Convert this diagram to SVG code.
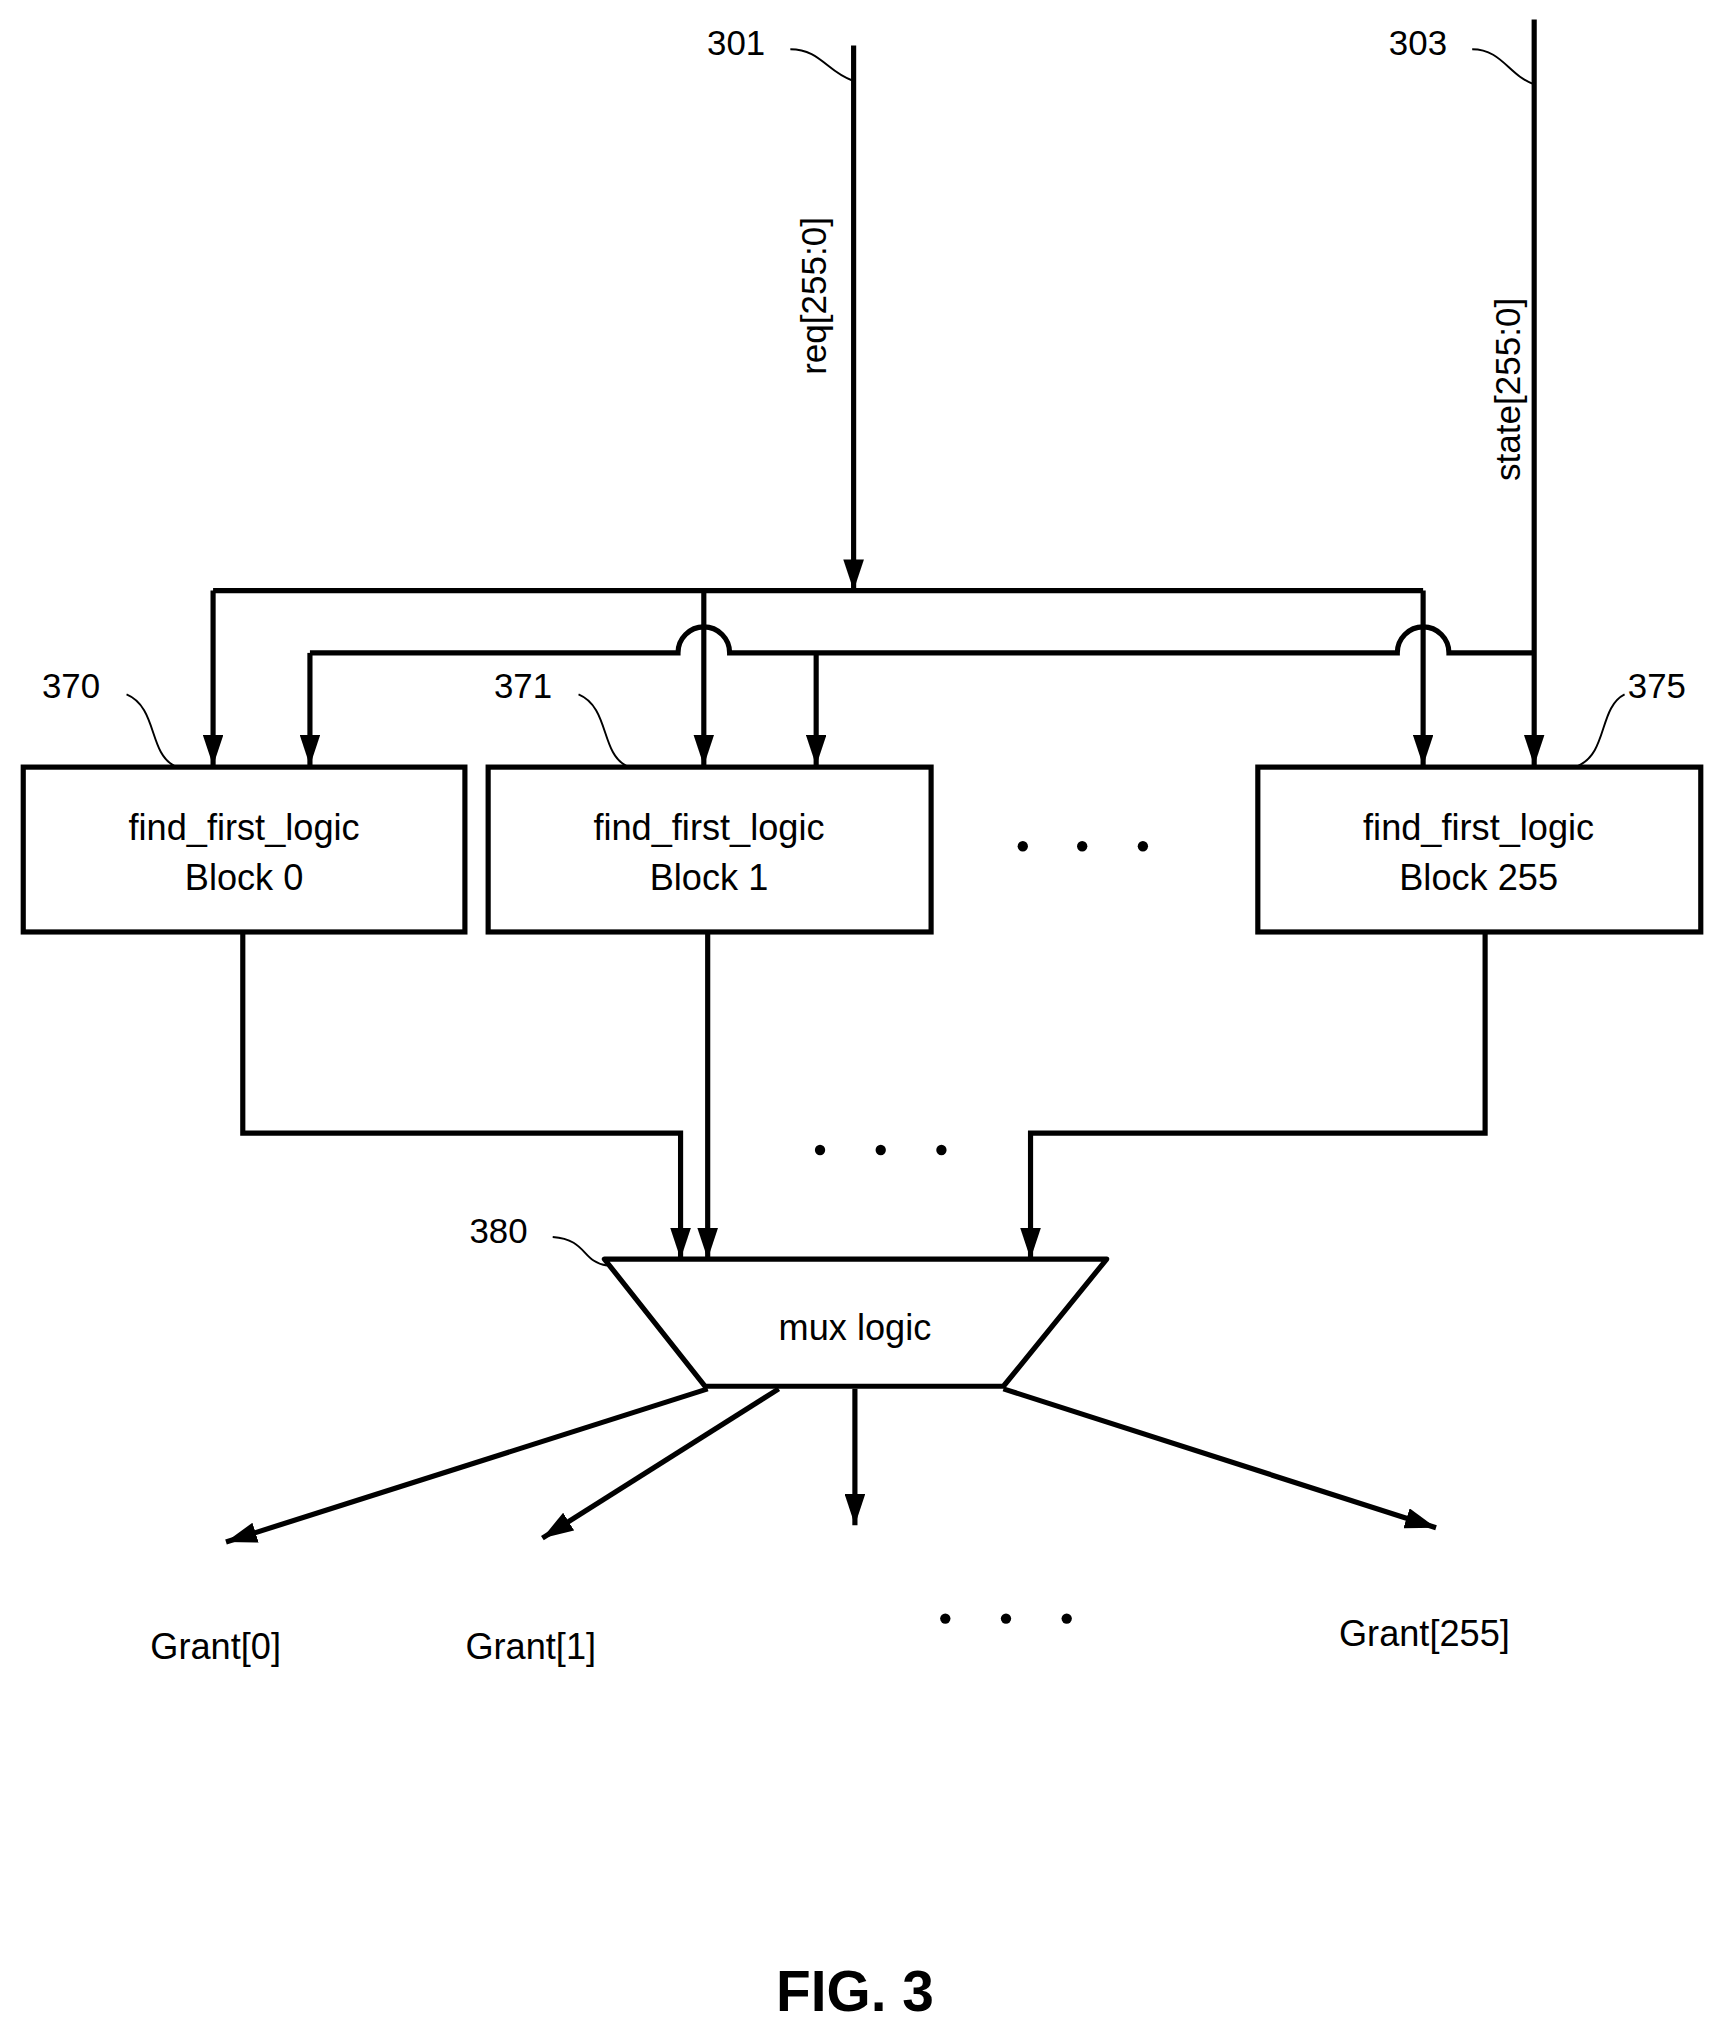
<svg xmlns="http://www.w3.org/2000/svg" width="1724" height="2025" viewBox="0 0 1724 2025">
<defs>
<style>
.w{fill:none;stroke:#000;stroke-width:4}
.t{stroke:#000;stroke-width:1.5;fill:none}
text{font-family:"Liberation Sans",Arial,sans-serif;fill:#000}
.b{font-size:28px;text-anchor:middle}
.l{font-size:27px;text-anchor:middle}
.d{fill:#000}
</style>
<marker id="a" viewBox="0 0 10 10" refX="10" refY="5" markerWidth="5" markerHeight="5" orient="auto" markerUnits="userSpaceOnUse" overflow="visible">
<path d="M-12,-7 L10,5 L-12,17 z" transform="scale(0.9)" fill="#000"/>
</marker>
<marker id="m" viewBox="0 0 24 16" refX="24" refY="8" markerWidth="24" markerHeight="16" orient="auto" markerUnits="userSpaceOnUse">
<path d="M0,0 L24,8 L0,16 z" fill="#000"/>
</marker>
</defs>
<rect width="1724" height="2025" fill="#fff"/>
<g transform="scale(1.2914,1.298)">
<g id="connectors">
<path class="w" d="M661,35 V455" marker-end="url(#m)"/>
<path class="w" d="M1188,15 V590" marker-end="url(#m)"/>
<path class="w" d="M165,455 H1102"/>
<path class="w" d="M165,455 V590" marker-end="url(#m)"/>
<path class="w" d="M545,455 V590" marker-end="url(#m)"/>
<path class="w" d="M1102,455 V590" marker-end="url(#m)"/>
<path class="w" d="M240,503 H525 A20,20 0 0 1 565,503 H1082 A20,20 0 0 1 1122,503 H1188"/>
<path class="w" d="M240,503 V590" marker-end="url(#m)"/>
<path class="w" d="M632,503 V590" marker-end="url(#m)"/>
<path class="w" d="M188,718 V873 H527 V970" marker-end="url(#m)"/>
<path class="w" d="M548,718 V970" marker-end="url(#m)"/>
<path class="w" d="M1150,718 V873 H798 V970" marker-end="url(#m)"/>
<path class="w" d="M548,1070 L175,1188" marker-end="url(#m)"/>
<path class="w" d="M603,1070 L420,1185" marker-end="url(#m)"/>
<path class="w" d="M662,1070 V1175" marker-end="url(#m)"/>
<path class="w" d="M777,1070 L1112,1177" marker-end="url(#m)"/>
<path class="t" d="M612,38 C635,38 640,55 660,62"/>
<path class="t" d="M1140,38 C1163,38 1168,58 1188,65"/>
<path class="t" d="M98,535 C122,545 115,580 135,590"/>
<path class="t" d="M448,535 C472,545 465,580 485,590"/>
<path class="t" d="M1258,535 C1238,545 1245,580 1222,590"/>
<path class="t" d="M428,953 C455,955 450,972 470,975"/>
</g>
<g id="labels">
<text class="l" x="570" y="42">301</text>
<text class="l" x="1098" y="42">303</text>
<text class="l" transform="translate(640,228) rotate(-90)">req[255:0]</text>
<text class="l" transform="translate(1177,300) rotate(-90)">state[255:0]</text>
<text class="l" x="55" y="538">370</text>
<text class="l" x="405" y="538">371</text>
<text class="l" x="1283" y="538">375</text>
<text class="l" x="386" y="958">380</text>
</g>
<g id="block0"><rect class="w" x="18" y="591" width="342" height="127"/><text class="b" x="189" y="647">find_first_logic</text><text class="b" x="189" y="686">Block 0</text></g>
<g id="block1"><rect class="w" x="378" y="591" width="343" height="127"/><text class="b" x="549" y="647">find_first_logic</text><text class="b" x="549" y="686">Block 1</text></g>
<g id="block255"><rect class="w" x="974" y="591" width="343" height="127"/><text class="b" x="1145" y="647">find_first_logic</text><text class="b" x="1145" y="686">Block 255</text></g>
<g id="mux"><path class="w" d="M468,970 H857 L777,1068 H546 Z" stroke-linejoin="round"/><text class="b" x="662" y="1032">mux logic</text></g>
<g id="dots">
<circle class="d" cx="792" cy="652" r="4"/><circle class="d" cx="838" cy="652" r="4"/><circle class="d" cx="885" cy="652" r="4"/>
<circle class="d" cx="635" cy="886" r="4"/><circle class="d" cx="682" cy="886" r="4"/><circle class="d" cx="729" cy="886" r="4"/>
<circle class="d" cx="732" cy="1247" r="4"/><circle class="d" cx="779" cy="1247" r="4"/><circle class="d" cx="826" cy="1247" r="4"/>
</g>
<g id="grants">
<text class="b" x="167" y="1278">Grant[0]</text>
<text class="b" x="411" y="1278">Grant[1]</text>
<text class="b" x="1103" y="1268">Grant[255]</text>
</g>
<text x="662" y="1549" font-size="44" font-weight="bold" text-anchor="middle">FIG. 3</text>
</g>
</svg>
